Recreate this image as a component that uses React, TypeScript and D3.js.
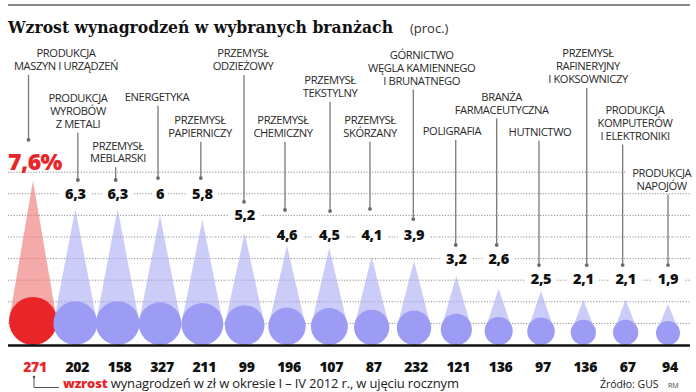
import React from "react";
import * as d3 from "d3";

// ---- data ----
const categories: string[][] = [
  ["PRODUKCJA", "MASZYN I URZĄDZEŃ"],
  ["PRODUKCJA", "WYROBÓW", "Z METALI"],
  ["PRZEMYSŁ", "MEBLARSKI"],
  ["ENERGETYKA"],
  ["PRZEMYSŁ", "PAPIERNICZY"],
  ["PRZEMYSŁ", "ODZIEŻOWY"],
  ["PRZEMYSŁ", "CHEMICZNY"],
  ["PRZEMYSŁ", "TEKSTYLNY"],
  ["PRZEMYSŁ", "SKÓRZANY"],
  ["GÓRNICTWO", "WĘGLA KAMIENNEGO", "I BRUNATNEGO"],
  ["POLIGRAFIA"],
  ["BRANŻA", "FARMACEUTYCZNA"],
  ["HUTNICTWO"],
  ["PRZEMYSŁ", "RAFINERYJNY", "I KOKSOWNICZY"],
  ["PRODUKCJA", "KOMPUTERÓW", "I ELEKTRONIKI"],
  ["PRODUKCJA", "NAPOJÓW"],
];
const growth = [7.6, 6.3, 6.3, 6, 5.8, 5.2, 4.6, 4.5, 4.1, 3.9, 3.2, 2.6, 2.5, 2.1, 2.1, 1.9];
const growthLabels = ["7,6%", "6,3", "6,3", "6", "5,8", "5,2", "4,6", "4,5", "4,1", "3,9", "3,2", "2,6", "2,5", "2,1", "2,1", "1,9"];
const increaseZl = [271, 202, 158, 327, 211, 99, 196, 107, 87, 232, 121, 136, 97, 136, 67, 94];
const gridValues = [1, 2, 3, 4, 5, 6, 7, 8];

// ---- layout (annotation placement) ----
const labelX = [66, 78, 118, 157, 200, 243, 283, 330, 370, 421.7, 452, 501.7, 540, 588, 635, 661.7];
const labelY = [53, 98, 145.5, 96.7, 120, 53.3, 120, 80, 120, 55, 131, 96.7, 131.7, 53.3, 110, 173];
const leaderDx = [-4.5, 2.5, -2, -2, -1.5, -0.7, -2, 0.7, -1.7, -0.7, -0.6, -2, -2, 3.4, -3, 0];
const valueLevel = [8.5, 7, 7, 7, 7, 6, 5.1, 5.1, 5.1, 5.1, 4, 4, 3.05, 3.05, 3.05, 3.05];
const dotLevel = [9.5, 7.64, 7.64, 7.73, 7.73, 6.63, 6.25, 6.2, 6.3, 5.83, 4.63, 4.63, 3.7, 3.7, 3.7, 3.7];

const W = 696;
const H = 392;
const SANS = "'Open Sans', 'Noto Sans', sans-serif";
const RED = "#e8262a";
const BLUE = "#9c9cf4";
const LINE_H = 12.8;

export default function App() {
  const idx = growth.map((_, i) => i);
  const x = d3.scalePoint<number>().domain(idx).range([33, 668]);
  const y = d3.scaleLinear().domain([0, 8]).range([345, 172.2]);
  const r = d3.scaleSqrt().domain([0, 7.6]).range([0, 24]);
  const baseY = y(0);

  const valueBoxW = (s: string) => s.length * 8 + 8;

  return (
    <svg width={W} height={H} style={{ position: "absolute", left: 0, top: 0, background: "#fff" }}>
      <rect x={0} y={0} width={W} height={H} fill="#fff" />
      {/* top rule */}
      <line x1={8} x2={690} y1={5} y2={5} stroke="#8a8a8a" strokeWidth={2} />
      {/* title */}
      <text x={8} y={33} fontFamily="'DejaVu Serif', serif" fontWeight={700} fontSize={16} fill="#111" textLength={385} lengthAdjust="spacingAndGlyphs">
        Wzrost wynagrodzeń w wybranych branżach
      </text>
      <text x={410} y={33} fontFamily={SANS} fontSize={13} fill="#333">(proc.)</text>

      {/* gridlines */}
      {gridValues.map((g) => (
        <line key={g} x1={8} x2={690} y1={y(g)} y2={y(g)} stroke="#8c8c8c" strokeWidth={1} strokeDasharray="1.2,1.6" />
      ))}

      {/* cones */}
      {growth.map((v, i) => {
        const cx = x(i)!;
        const rr = r(v);
        const cy = baseY - rr;
        const path = d3.path();
        path.moveTo(cx, y(v));
        path.lineTo(cx + rr, cy);
        path.lineTo(cx - rr, cy);
        path.closePath();
        return (
          <path key={"t" + i} d={path.toString()} fill={i === 0 ? "#f07c7c" : "#aaaaf5"} fillOpacity={i === 0 ? 0.65 : 0.6} />
        );
      })}
      {/* circles */}
      {growth.map((v, i) => (
        <circle key={"c" + i} cx={x(i)!} cy={baseY - r(v)} r={r(v)} fill={i === 0 ? RED : BLUE} />
      ))}
      {/* baseline */}
      <line x1={8} x2={690} y1={baseY + 0.5} y2={baseY + 0.5} stroke="#111" strokeWidth={2.5} />

      {/* value labels */}
      {growthLabels.map((s, i) => {
        const cx = x(i)! + (i === 0 ? 2 : 0);
        const yc = y(valueLevel[i]);
        const bw = valueBoxW(s);
        return (
          <g key={"v" + i}>
            <rect x={i === 0 ? 8 : cx - bw / 2} y={yc - 9} width={i === 0 ? 67 : bw} height={i === 0 ? 18 : 16} fill="#fff" />
            <text
              x={cx}
              y={i === 0 ? yc + 8.5 : yc + 5}
              textAnchor="middle"
              fontFamily={SANS}
              fontWeight={800}
              fontSize={i === 0 ? 23 : 14.5}
              fill={i === 0 ? RED : "#111"}
              letterSpacing={i === 0 ? -0.5 : -0.3}
            >
              {s}
            </text>
          </g>
        );
      })}

      {/* category labels + leaders */}
      {categories.map((lines, i) => {
        const lx = x(i)! + leaderDx[i];
        const top = labelY[i] + (lines.length - 1) * LINE_H + 9;
        const dotY = y(dotLevel[i]);
        return (
          <g key={"l" + i}>
            {i === 15 && <rect x={626} y={labelY[i] - 7} width={70} height={26} fill="#fff" />}
            <text
              x={labelX[i]}
              y={labelY[i] + 4}
              textAnchor="middle"
              fontFamily={SANS}
              fontSize={11.2}
              fontWeight={500}
              fill="#2a2a2a"
              letterSpacing={-0.4}
            >
              {lines.map((t, k) => (
                <tspan key={k} x={labelX[i]} dy={k === 0 ? 0 : LINE_H}>
                  {t}
                </tspan>
              ))}
            </text>
            <line x1={lx} x2={lx} y1={top} y2={dotY} stroke="#7a7a7a" strokeWidth={1.3} />
            <circle cx={lx} cy={dotY} r={1.9} fill="#6a6a6a" />
          </g>
        );
      })}

      {/* bottom values */}
      {increaseZl.map((v, i) => (
        <text
          key={"z" + i}
          x={x(i)! + 2}
          y={372}
          textAnchor="middle"
          fontFamily={SANS}
          fontWeight={800}
          fontSize={14}
          fill={i === 0 ? RED : "#111"}
          letterSpacing={-0.3}
        >
          {v}
        </text>
      ))}

      {/* footer connector */}
      <path d="M34,377 V387.5 H59" fill="none" stroke="#555" strokeWidth={1} />
      <circle cx={34} cy={377} r={1.3} fill="#555" />
      <text x={63} y={388} fontFamily={SANS} fontSize={13} fill="#222" letterSpacing={-0.15}>
        <tspan fill={RED} fontWeight={800}>wzrost</tspan> wynagrodzeń w zł w okresie I – IV 2012 r., w ujęciu rocznym
      </text>
      <text x={600} y={388} fontFamily={SANS} fontSize={10.5} fill="#222">Źródło: GUS</text>
      <text x={668} y={388} fontFamily={SANS} fontSize={7} fill="#444">RM</text>
    </svg>
  );
}
